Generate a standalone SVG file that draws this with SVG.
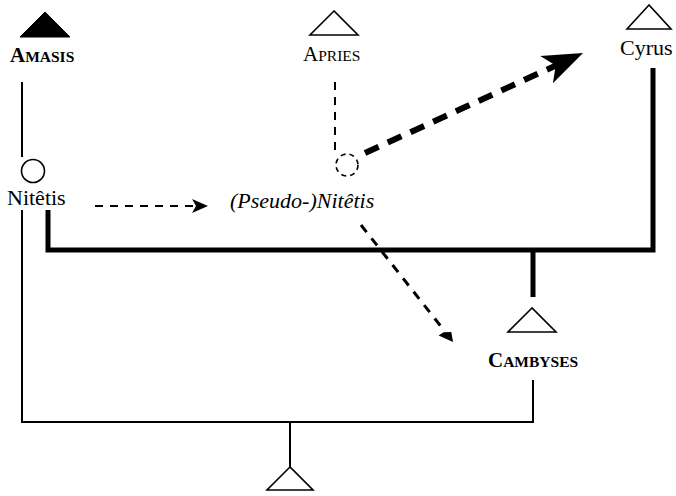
<svg xmlns="http://www.w3.org/2000/svg" width="676" height="496" viewBox="0 0 676 496">
  <style>
    text { font-family: "Liberation Serif", "Times New Roman", serif; fill: #000; }
    .name { font-size: 21px; }
    .plain { font-size: 22px; }
    .sc { font-size: 15.5px; }
    .bold { font-weight: bold; }
    .ital { font-style: italic; }
    .thin { fill: none; stroke: #000; stroke-width: 2; }
    .thick { fill: none; stroke: #000; stroke-width: 5; }
    .sym { fill: #fff; stroke: #000; stroke-width: 1.6; stroke-linejoin: miter; }
    .dash-thin { fill: none; stroke: #000; stroke-width: 2; stroke-dasharray: 8 7; }
    .dash-mid { fill: none; stroke: #000; stroke-width: 3; stroke-dasharray: 9 8; }
    .dash-bold { fill: none; stroke: #000; stroke-width: 6; stroke-dasharray: 15 10; }
    .head { fill: #000; stroke: none; }
  </style>

  <!-- kinship lines and transfers -->
  <g id="connectors">
    <!-- Amasis descent line, broken around Nitêtis -->
    <line class="thin" x1="22" y1="82" x2="22" y2="157"/>
    <polyline class="thin" points="22,210 22,422 533,422 533,380"/>
    <line class="thin" x1="290" y1="422" x2="290" y2="467"/>
    <!-- marriage bar Nitêtis / Cyrus -->
    <polyline class="thick" points="48,210 48,250 653,250 653,68"/>
    <line class="thick" x1="533" y1="250" x2="533" y2="297"/>
    <!-- Apries to the hidden daughter -->
    <line class="dash-thin" x1="335" y1="82" x2="335" y2="153"/>
    <!-- Nitêtis to (Pseudo-)Nitêtis -->
    <line class="dash-thin" x1="95" y1="206" x2="196" y2="206"/>
    <polygon class="head" points="208,206 192,199 196,206 192,213"/>
    <!-- (Pseudo-)Nitêtis to Cambyses -->
    <line class="dash-mid" x1="361" y1="225" x2="443" y2="329"/>
    <polygon class="head" points="453,342 438.6,335.6 443.6,332.3 451.3,331.9"/>
    <!-- hidden daughter to Cyrus -->
    <line class="dash-bold" x1="365" y1="153" x2="557" y2="65"/>
    <polygon class="head" points="583,53 540.3,56.1 555.7,65.5 552.9,83.3"/>
  </g>

  <g id="amasis">
    <polygon points="45,12 20,37 70,37" fill="#000" stroke="#000" stroke-width="1"/>
    <text class="name bold" x="10" y="62">A<tspan class="sc">MASIS</tspan></text>
  </g>

  <g id="apries">
    <polygon class="sym" points="334,11 310,35 358,35"/>
    <text class="name" x="303" y="61">A<tspan class="sc">PRIES</tspan></text>
  </g>

  <g id="cyrus">
    <polygon class="sym" points="649,5 627,29 671,29"/>
    <text class="plain" x="620" y="55">Cyrus</text>
  </g>

  <g id="nitetis">
    <circle class="sym" cx="33" cy="171" r="11.5"/>
    <text class="plain" x="7" y="205">Nitêtis</text>
  </g>

  <g id="daughter">
    <circle cx="347" cy="165" r="11" fill="none" stroke="#000" stroke-width="1.6" stroke-dasharray="5 4"/>
  </g>

  <g id="pseudo-nitetis">
    <text class="plain ital" x="230" y="208">(Pseudo-)Nitêtis</text>
  </g>

  <g id="cambyses">
    <polygon class="sym" points="532,308 508,332 556,332"/>
    <text class="name bold" x="488" y="367">C<tspan class="sc">AMBYSES</tspan></text>
  </g>

  <g id="child">
    <polygon class="sym" points="290,467 267,490 313,490"/>
  </g>
</svg>
